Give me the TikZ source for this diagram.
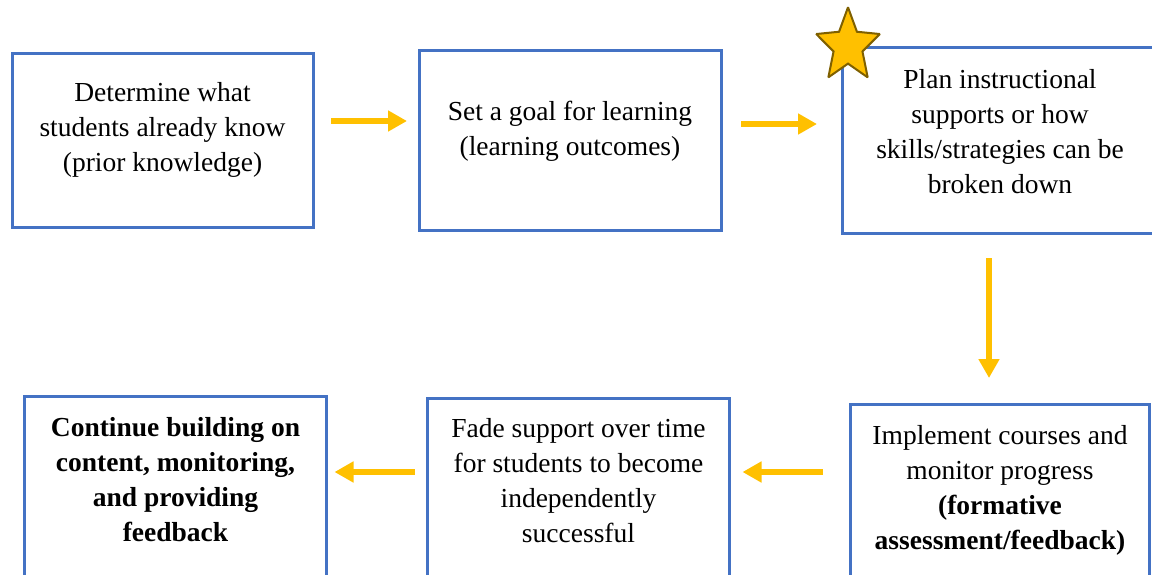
\documentclass[tikz,border=0pt]{standalone}
\usepackage{fontspec}
\setmainfont{Liberation Serif}
\usetikzlibrary{arrows.meta, positioning, shapes.geometric}
\definecolor{boxblue}{HTML}{4472C4}
\definecolor{arrowgold}{HTML}{FFC000}
\definecolor{starline}{HTML}{7F6000}
\newcommand{\lift}[1][21pt]{\par\vspace{#1}\hrule height 0pt}
\tikzstyle{stepbox} = [draw=boxblue, line width=3pt, rectangle, outer sep=0pt,
   text width=280pt, align=flush center, font=\fontsize{27.5}{35}\selectfont]
\tikzstyle{goldArrow} = [draw=arrowgold, line width=6pt,
   -{Triangle[length=19pt, width=20pt]}]
\tikzstyle{starmark} = [star, star points=5, star point ratio=2.2,
   minimum size=76pt, inner sep=0pt, draw=starline, fill=arrowgold,
   line width=2pt, miter limit=2, xscale=0.88, yscale=1.02]

\begin{document}
\begin{tikzpicture}[x=1pt, y=1pt]
  \clip (0,0) rectangle (1152,-574);

  \node[stepbox, minimum width=301pt, minimum height=174pt] (know) at (162.5,-140) {Determine what\\ students already know\\ (prior knowledge)\lift};
  \node[stepbox, minimum width=302pt, minimum height=180pt, right=106pt of know] (goal) {Set a goal for learning\\ (learning outcomes)\lift[17pt]};
  \node[stepbox, minimum width=316pt, minimum height=186pt, right=121pt of goal] (plan) {Plan instructional\\ supports or how\\ skills/strategies can be\\ broken down\lift[17pt]};
  \node[stepbox, minimum width=299pt, minimum height=184pt, below=171pt of plan] (monitor) {Implement courses and\\ monitor progress\\ {\bfseries (formative\\ assessment/feedback)}\lift[11pt]};
  \node[stepbox, minimum width=302pt, minimum height=186pt, left=121pt of monitor, yshift=5pt] (fade) {Fade support over time\\ for students to become\\ independently\\ successful\lift};
  \node[stepbox, minimum width=302pt, minimum height=188pt, left=101pt of fade, yshift=1pt] (build) {\bfseries Continue building on\\ content, monitoring,\\ and providing\\ feedback\lift};

  % star on the corner of the planning box
  \node[starmark] (star) at (848,-46) {};

  % arrows between the steps
  \draw[goldArrow, shorten <=18pt, shorten >=12pt] ([yshift=19pt]know.east) -- ([yshift=19pt]goal.west);
  \draw[goldArrow, shorten <=20pt, shorten >=25pt] ([yshift=16pt]goal.east) -- ([yshift=16pt]plan.west);
  \draw[goldArrow, shorten <=25pt, shorten >=26pt] ([xshift=-11pt]plan.south) -- ([xshift=-11pt]monitor.north);
  \draw[goldArrow, shorten <=28pt, shorten >=13pt] ([yshift=24pt]monitor.west) -- ([yshift=24pt]monitor.west -| fade.east);
  \draw[goldArrow, shorten <=13pt, shorten >=8pt] ([yshift=19pt]fade.west) -- ([yshift=19pt]fade.west -| build.east);
\end{tikzpicture}
\end{document}
